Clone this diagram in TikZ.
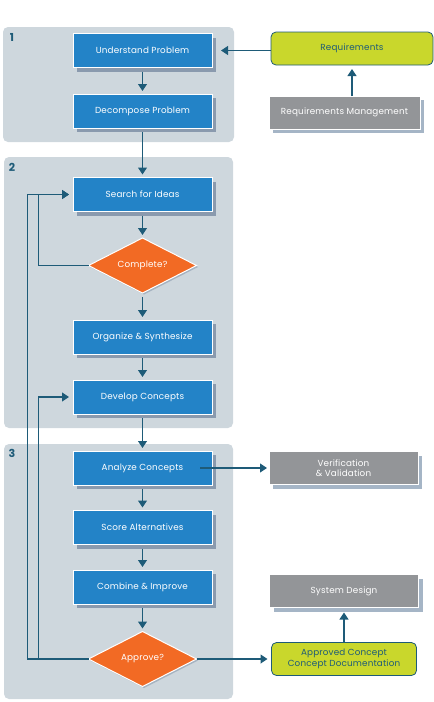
\documentclass[tikz,border=0pt]{standalone}
\usepackage{fontspec}
\setmainfont{Poppins}[LetterSpace=2]
\usetikzlibrary{arrows.meta,positioning,shapes.geometric,shadows,backgrounds}
\definecolor{panelcol}{HTML}{CED7DD}
\definecolor{bluecol}{HTML}{2383C7}
\definecolor{blueshad}{HTML}{8A9AAE}
\definecolor{graycol}{HTML}{939598}
\definecolor{grayshad}{HTML}{A5B5C6}
\definecolor{limecol}{HTML}{C9D72C}
\definecolor{tealcol}{HTML}{1E5B78}
\definecolor{orangecol}{HTML}{F26A24}

\begin{document}
\begin{tikzpicture}[
  x=1pt,y=-1pt,
  font=\fontsize{8.8}{10.5}\selectfont,
  box/.style={draw=white,line width=0.8pt,fill=bluecol,text=white,
              minimum width=139pt,minimum height=34pt,inner sep=0pt,outer sep=0pt,
              drop shadow={shadow xshift=4pt,shadow yshift=-4pt,fill=blueshad,opacity=1}},
  decide/.style={diamond,aspect=2,draw=white,line width=1pt,fill=orangecol,text=white,
              minimum width=108pt,minimum height=55pt,inner sep=0pt,outer sep=0pt,
              drop shadow={shadow xshift=1.5pt,shadow yshift=-1.5pt,fill=blueshad,opacity=0.6}},
  extbox/.style={draw=white,line width=0.8pt,fill=graycol,text=white,
              minimum width=149pt,minimum height=33pt,inner sep=0pt,outer sep=0pt,
              align=center,
              drop shadow={shadow xshift=4pt,shadow yshift=-4pt,fill=grayshad,opacity=1}},
  docbox/.style={draw=tealcol,line width=0.8pt,fill=limecol,text=tealcol,
              rounded corners=5pt,minimum height=33pt,inner sep=0pt,outer sep=0pt,
              align=center},
  panel/.style={fill=panelcol,rounded corners=5pt},
  num/.style={font=\bfseries\fontsize{11}{11}\selectfont,text=tealcol},
  arr/.style={-{Triangle[length=7pt,width=9pt]},line width=1.2pt,draw=tealcol},
  flow/.style={arr,shorten <=4pt,shorten >=3pt},
]
\useasboundingbox (0,0) rectangle (434,702);

% main column
\node[box] (up) at (142.5,50.5) {Understand Problem};
\node[box, below=26.5pt of up] (dec) {Decompose Problem};
\node[box, below=49.5pt of dec] (search) {Search for Ideas};
\node[decide, below=26.5pt of search] (complete) {Complete?};
\node[box, below=27pt of complete] (org) {Organize \& Synthesize};
\node[box, below=26pt of org] (dev) {Develop Concepts};
\node[box, below=37pt of dev] (ana) {Analyze Concepts};
\node[box, below=25.5pt of ana] (score) {Score Alternatives};
\node[box, below=25.5pt of score] (comb) {Combine \& Improve};
\node[decide, below=27.5pt of comb] (approve) {Approve?};

% outside the process
\node[docbox, minimum width=162pt, right=59pt of up, yshift=2pt] (req) {Requirements};
\node[extbox, minimum width=151pt, below=31pt of req, xshift=-7.5pt] (reqm)
  {Requirements Management};
\node[extbox, right=57pt of ana] (vv) {Verification\\\& Validation};
\node[docbox, minimum width=145pt, right=75pt of approve] (appr)
  {Approved Concept\\Concept Documentation};
\node[extbox, above=35pt of appr] (sysd) {System Design};

\node[num] (n1) at (12,37) {1};
\node[num] (n2) at (12,167) {2};
\node[num] (n3) at (12,453) {3};

\draw[flow] (up) -- (dec);
\draw[flow] (dec) -- (search);
\draw[flow] (search) -- (complete);
\draw[flow] (complete) -- (org);
\draw[flow] (org) -- (dev);
\draw[flow] (dev) -- (ana);
\draw[flow] (ana) -- (score);
\draw[flow] (score) -- (comb);
\draw[flow] (comb) -- (approve);

\draw[arr,shorten >=4pt] (complete.west) -- ++(-50,0) |- (search.west);
\draw[arr,shorten >=4pt] (approve.west) -- ++(-61,0) |- (search.west);
\draw[arr,shorten >=4pt] ([xshift=-50pt]approve.west) |- (dev.west);

\draw[arr,shorten >=9pt] (req.west |- up.east) -- (up.east);
\draw[arr,shorten >=4pt] (reqm.north -| req.south) -- (req.south);
\draw[arr,shorten >=2pt] ([xshift=-12pt]ana.east) -- (vv.west);
\draw[arr,shorten >=4pt] (approve.east) -- (appr.west);
\draw[arr,shorten >=5pt] (appr.north) -- (appr.north |- sysd.south);

\begin{scope}[on background layer]
  \fill[panel] (3,27) rectangle (234,142);
  \fill[panel] (4,157) rectangle (233,428);
  \fill[panel] (4,444) rectangle (233,699);
\end{scope}
\end{tikzpicture}
\end{document}
